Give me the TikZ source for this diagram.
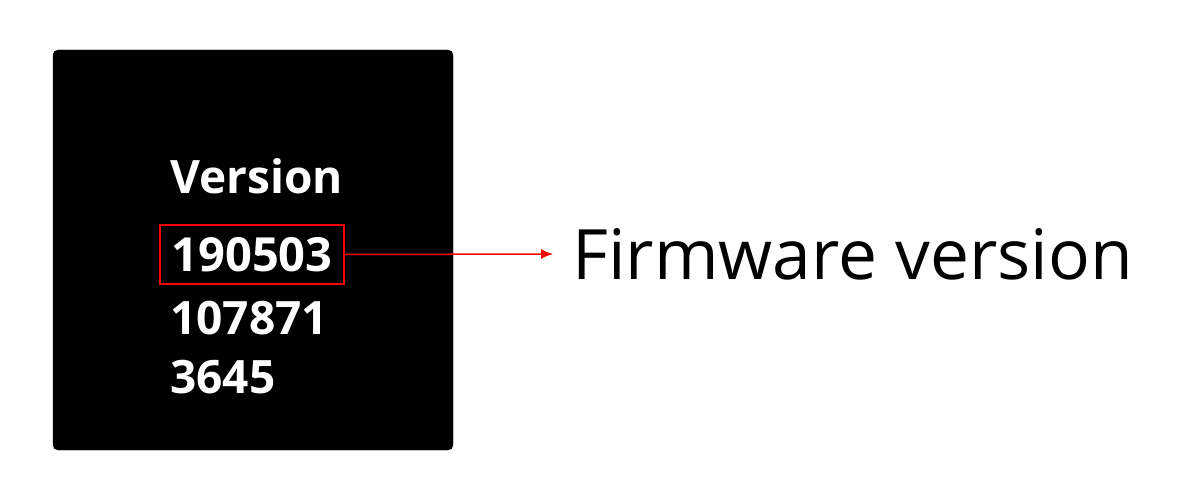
\documentclass[tikz,border=0pt]{standalone}
\usepackage{fontspec}
\setmainfont{Open Sans}
\usepackage{tikz}
\usetikzlibrary{arrows.meta,positioning}
\tikzset{
  screen/.style={fill=black, rounded corners=5pt},
  textline/.style={font=\fontsize{46}{50}\selectfont\bfseries, text=white, anchor=base west, inner sep=0pt},
  markbox/.style={draw=red, line width=1.5pt, font=\fontsize{47}{50}\selectfont\bfseries, text=white, minimum width=184pt, minimum height=59pt, inner sep=0pt},
  callout/.style={font=\fontsize{69.5}{80}\selectfont, anchor=west, inner sep=0pt},
  arrow/.style={-{Latex[length=12pt,width=10pt]}, red, line width=1.5pt}
}
\begin{document}
\begin{tikzpicture}[x=1pt,y=-1pt]
    \useasboundingbox (0,0) rectangle (1190,500);
    % Screen
    \draw[screen] (53,50) rectangle (453,450);
    % Lines on the screen
    \node[textline] (title) at (170,193) {Version};
    \node[markbox] (fwnum) at (252,254.5) {190503};
    \node[textline] (hwnum) at (170,334) {107871};
    \node[textline] (sub) at (170,393) {3645};
    % Callout
    \node[callout] (fw) at (572,254) {Firmware version};
    \draw[arrow] (fwnum.east) -- ([xshift=-19pt]fw.west);
\end{tikzpicture}
\end{document}
